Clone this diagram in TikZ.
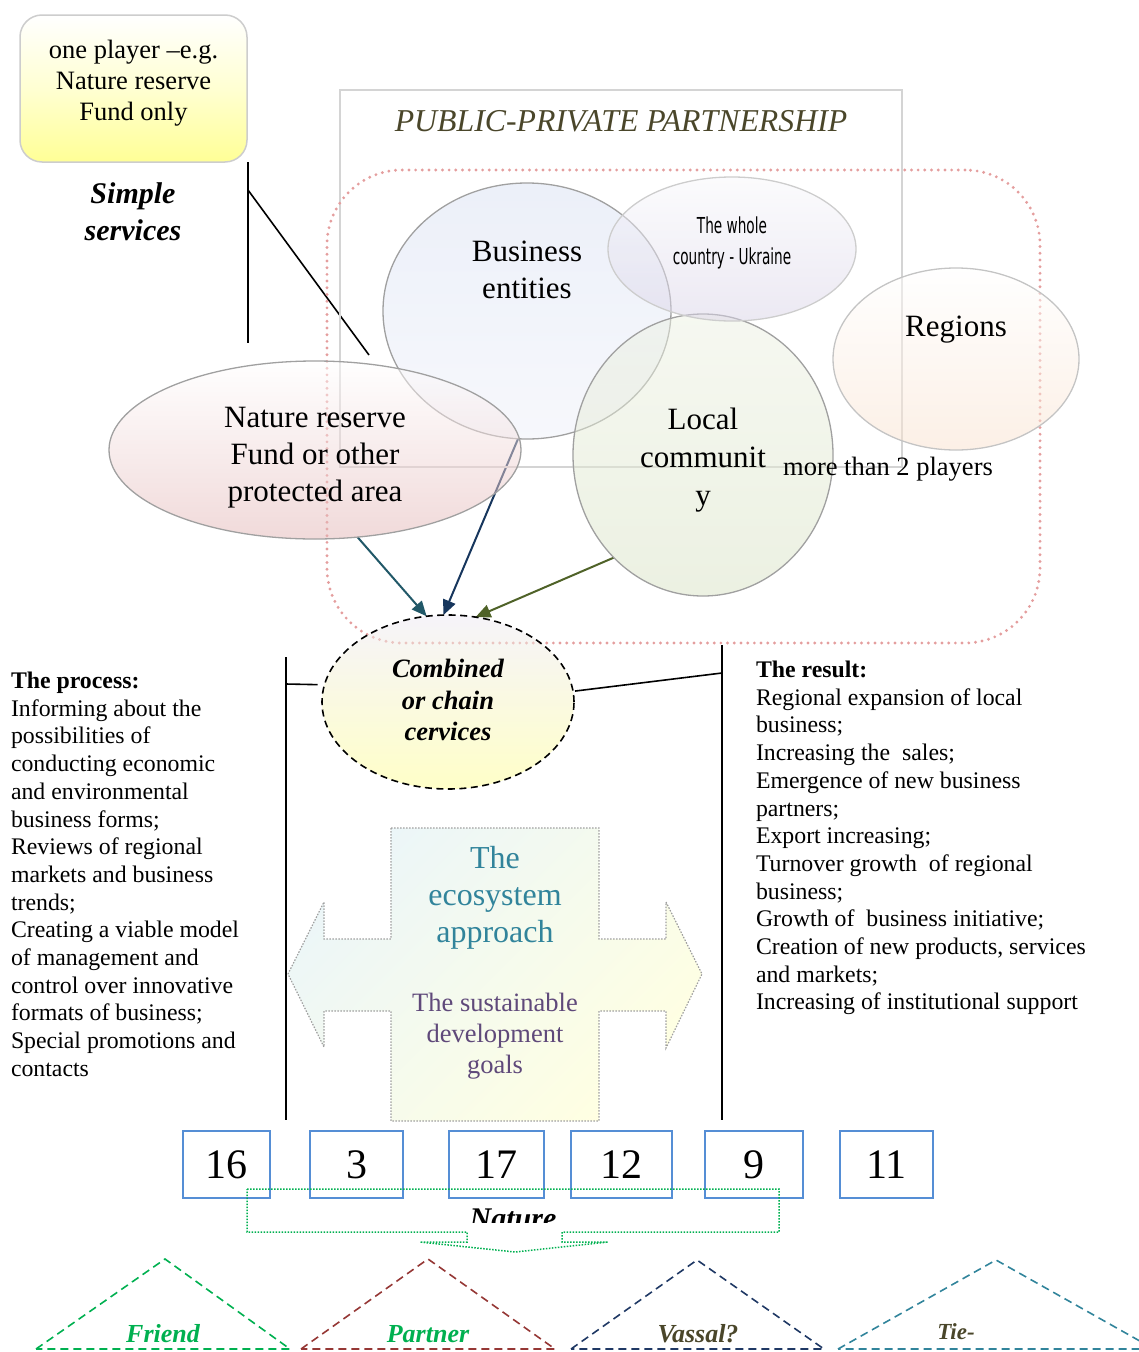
\documentclass[tikz,border=0pt]{standalone}
\usepackage{fontspec}
\setmainfont{Liberation Serif}
\newfontfamily\condfont[FakeStretch=0.62]{DejaVu Sans}
\usetikzlibrary{shapes.geometric,arrows.meta}
\pgfdeclarelayer{back}
\pgfsetlayers{back,main}
\definecolor{ppp}{RGB}{74,70,42}
\definecolor{pinkdot}{RGB}{228,158,158}
\definecolor{boxblue}{RGB}{85,142,213}
\definecolor{teal1}{RGB}{33,88,104}
\definecolor{navy1}{RGB}{23,54,93}
\definecolor{olive1}{RGB}{79,98,40}
\definecolor{ecoteal}{RGB}{49,132,155}
\definecolor{sdgpurple}{RGB}{95,73,122}
\definecolor{grn}{RGB}{0,176,80}
\definecolor{dred}{RGB}{149,55,53}
\definecolor{navy2}{RGB}{31,56,100}
\definecolor{teal2}{RGB}{49,132,155}
\definecolor{edge}{RGB}{160,160,160}
\definecolor{lightedge}{RGB}{205,205,205}
\definecolor{rectgray}{RGB}{212,212,212}
\definecolor{yelbox}{RGB}{255,255,150}
\definecolor{busT}{RGB}{217,225,243}
\definecolor{busB}{RGB}{239,241,249}
\definecolor{wholeT}{RGB}{248,248,251}
\definecolor{wholeB}{RGB}{217,211,231}
\definecolor{locT}{RGB}{237,241,227}
\definecolor{locB}{RGB}{217,227,197}
\definecolor{regB}{RGB}{249,225,205}
\definecolor{natB}{RGB}{227,181,181}
\definecolor{combT}{RGB}{237,233,245}
\definecolor{combB}{RGB}{255,255,145}
\definecolor{crossA}{RGB}{236,246,248}
\definecolor{crossB}{RGB}{255,255,226}
\definecolor{crossedge}{RGB}{160,160,160}
\begin{document}
\begin{tikzpicture}[x=1pt,y=-1pt,
  every node/.style={inner sep=0pt, outer sep=0pt},
  oval/.style={ellipse, draw=edge, line width=1.3pt, fill opacity=0.5},
  ctext/.style={align=center, font=\fontsize{31}{37}\selectfont},
  body/.style={align=left, anchor=north west, font=\fontsize{23.8}{27.7}\selectfont},
  numbox/.style={draw=boxblue, line width=1.8pt, fill=white, minimum height=67pt, font=\fontsize{42}{42}\selectfont},
  conn/.style={line width=1.6pt},
  arr/.style={line width=2pt, -{Triangle[length=15pt,width=13pt]}},
  tri/.style={line width=1.6pt, dash pattern=on 8pt off 5pt},
  tril/.style={font=\fontsize{26}{26}\selectfont\bfseries\itshape, anchor=base}
]
\useasboundingbox (0,0) rectangle (1138,1352);

% top-left box
\node[draw=lightedge, line width=1.5pt, rounded corners=22pt, minimum width=227pt, minimum height=147pt,
      top color=white, bottom color=yelbox, middle color={rgb,255:red,255;green,255;blue,210}] (one) at (133.5,88.5) {};
\node[align=center, font=\fontsize{26.5}{31}\selectfont] (onet) at (133.5,83.5) {one player --e.g.\\Nature reserve\\Fund only};
\node[align=center, font=\fontsize{30}{37}\selectfont\bfseries\itshape] (simple) at (133,211.5) {Simple\\services};
\coordinate (v1t) at (248,162);
\coordinate (v1b) at (248,343);
\coordinate (d1a) at (248,190);
\coordinate (d1b) at (369,355);
\draw[conn] (v1t) -- (v1b);
\draw[conn] (d1a) -- (d1b);

% PPP frame
\node[draw=rectgray, line width=1.6pt, minimum width=562pt, minimum height=377pt] (pppbox) at (621,278.5) {};
\node[font=\fontsize{31.8}{31.8}\selectfont\itshape, text=ppp] (ppp) at (621,121) {PUBLIC-PRIVATE PARTNERSHIP};
\node[draw=pinkdot, line width=3.2pt, dash pattern=on 0pt off 6.7pt, line cap=round, rounded corners=75pt,
      minimum width=713pt, minimum height=473pt] (zone) at (683.5,406.5) {};

% ellipses
\node[oval, minimum width=288pt, minimum height=256pt, top color=busT, bottom color=busB] (bus) at (527,311) {};
\node[oval, minimum width=260pt, minimum height=282pt, top color=locT, bottom color=locB] (loc) at (703,455) {};
\node[oval, draw=lightedge, minimum width=248pt, minimum height=144pt, top color=wholeT, bottom color=wholeB] (whole) at (732,249) {};
\node[oval, draw=lightedge!80!edge, minimum width=246pt, minimum height=182pt, top color=white, bottom color=regB] (reg) at (956,359) {};
\node[oval, minimum width=412pt, minimum height=178pt, top color=white, bottom color=natB] (nat) at (315,450) {};

\node[ctext] (bust) at (527,270) {Business\\entities};
\node[align=center, font=\fontsize{22}{31}\condfont] (wholet) at (732,243) {The whole\\country - Ukraine};
\node[ctext] (regt) at (956,330) {Regions};
\node[ctext, font=\fontsize{31}{38}\selectfont] (loct) at (703,460) {Local\\communit\\y};
\node[ctext] (natt) at (315,458) {Nature reserve\\Fund or other\\protected area};
\node[font=\fontsize{26.5}{26.5}\selectfont] (more) at (888,469) {more than 2 players};

% combined
\node[ellipse, draw=black, line width=1.6pt, dash pattern=on 7pt off 4.5pt, fill opacity=0.5,
      minimum width=252pt, minimum height=174pt, top color=combT, bottom color=combB] (comb) at (448,702) {};
\node[align=center, font=\fontsize{26.5}{31.5}\selectfont\bfseries\itshape] (combt) at (448,700) {Combined\\or chain\\cervices};

\begin{pgfonlayer}{back}
\draw[arr, teal1] (nat.296) -- (comb.104);
\draw[arr, navy1] (bus.266) -- (comb.93);
\draw[arr, olive1] (loc.229) -- (comb.72);
\end{pgfonlayer}

% side lines
\coordinate (lv1) at (286,657);
\coordinate (lv2) at (286,1120);
\coordinate (lh) at (286,684);
\coordinate (rv1) at (722,645);
\coordinate (rv2) at (722,1120);
\coordinate (rh) at (722,673);
\draw[conn] (lv1) -- (lv2);
\draw[conn] (rv1) -- (rv2);
\draw[conn] (lh) -- ([xshift=-7pt]comb.172);
\draw[conn] ([xshift=2pt]comb.5) -- (rh);

% text columns
\node[body] (process) at (11,672) {\textbf{The process:}\\Informing about the\\possibilities of\\conducting economic\\and environmental\\business forms;\\Reviews of regional\\markets and business\\trends;\\Creating a viable model\\of management and\\control over innovative\\formats of business;\\Special promotions and\\contacts};
\node[body] (result) at (756,661) {\textbf{The result:}\\Regional expansion of local\\business;\\Increasing the\ \ sales;\\Emergence of new business\\partners;\\Export increasing;\\Turnover growth\ \ of regional\\business;\\Growth of\ \ business initiative;\\Creation of new products, services\\and markets;\\Increasing of institutional support};

% cross shape
\draw[crossedge, line width=1.2pt, dash pattern=on 1.5pt off 1.5pt, top color=crossA, bottom color=crossB, shading angle=45]
  (391,828) -- (599,828) -- (599,939) -- (666,939) -- (666,902) -- (702,974) -- (666,1048) -- (666,1011)
  -- (599,1011) -- (599,1121) -- (391,1121) -- (391,1011) -- (324,1011) -- (324,1047) -- (288,974)
  -- (324,902) -- (324,939) -- (391,939) -- cycle;
\node[align=center, text=ecoteal, font=\fontsize{32}{37}\selectfont] (eco) at (495,898) {The\\ecosystem\\approach};
\node[align=center, text=sdgpurple, font=\fontsize{26.5}{31}\selectfont] (sdg) at (495,1036) {The sustainable\\development\\goals};

% number boxes
\node[numbox, minimum width=87pt] (n16) at (226.5,1164.5) {16};
\node[numbox, minimum width=93pt] (n3) at (356.5,1164.5) {3};
\node[numbox, minimum width=95pt] (n17) at (496.5,1164.5) {17};
\node[numbox, minimum width=101pt] (n12) at (621.5,1164.5) {12};
\node[numbox, minimum width=98pt] (n9) at (754,1164.5) {9};
\node[numbox, minimum width=93pt] (n11) at (886.5,1164.5) {11};

% clipped Nature label
\begin{scope}
\clip (380,1196) rectangle (650,1222);
\node[font=\fontsize{30}{30}\selectfont\bfseries\itshape, anchor=base] (naturet) at (513,1228) {Nature};
\end{scope}

% green dotted down-arrow bracket
\draw[grn, line width=1.5pt, dash pattern=on 1.5pt off 1.5pt]
  (247,1189) -- (779,1189) -- (779,1232) -- (562,1232) -- (562,1242) -- (608,1242) -- (515,1252)
  -- (420,1242) -- (467,1242) -- (467,1232) -- (247,1232) -- cycle;

% triangles
\draw[tri, grn] (36,1349) -- (165,1259) -- (290,1349) -- cycle;
\draw[tri, dred] (301,1349) -- (428,1259) -- (555,1349) -- cycle;
\draw[tri, navy2] (571,1349) -- (697,1260) -- (824,1349) -- cycle;
\draw[tri, teal2] (838,1349) -- (996,1260) -- (1154,1349) -- cycle;
\node[tril, text=grn] (friend) at (163,1342) {Friend};
\node[tril, text=grn] (partner) at (428,1342) {Partner};
\node[tril, text=ppp] (vassal) at (698,1342) {Vassal?};
\node[tril, text=ppp, font=\fontsize{23}{23}\selectfont\bfseries\itshape] (tie) at (956,1339) {Tie-};
\end{tikzpicture}
\end{document}
